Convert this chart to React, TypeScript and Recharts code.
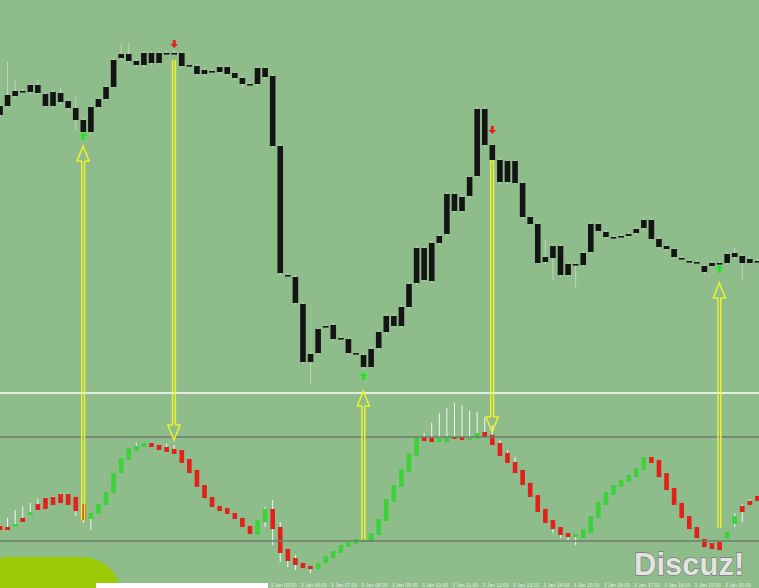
import { ComposedChart, Bar, XAxis, YAxis, ReferenceLine } from "recharts"

// price candles (top window), one value per bar
const priceOpen = [285,294,304,309,308,315,306,294,307,299, 292,280,268,293,301,313,342,346,339,335, 347,337,347,347,347,335,334,326,329,328, 333,327,322,316,316,332,324,254,125,123, 96,38,47,74,75,62,61,47,45,33, 52,68,84,74,93,117,152,119,157,166, 206,189,204,224,291,255,240,218,239,217, 183,176,138,142,154,125,136,135,148,176, 168,163,164,164,167,172,180,161,154,151, 142,139,138,134,134,137,137,147,144,141, 139]
const priceHigh = [296,338,320,311,317,321,308,310,312,301, 303,282,295,303,315,342,357,357,341,349, 349,349,350,350,349,337,336,332,331,335, 335,329,324,318,334,334,326,256,127,125, 98,48,73,76,77,64,63,49,47,53, 70,86,86,95,118,154,154,159,166,208, 208,205,225,293,293,257,242,241,241,219, 185,178,160,156,156,138,138,149,178,178, 170,165,166,168,173,182,182,163,156,153, 144,141,140,136,139,139,148,153,146,143, 141]
const priceLow = [283,292,302,307,306,305,292,292,296,290, 270,265,266,291,299,311,340,337,333,333, 335,335,345,345,332,333,324,324,327,326, 324,320,312,314,314,321,252,125,123,95, 36,15,45,72,59,60,45,45,31,31, 50,66,72,72,91,115,118,117,155,164, 187,187,202,222,253,238,216,216,215,181, 174,135,136,120,123,123,113,133,146,167, 161,161,162,162,165,170,159,151,149,141, 140,137,136,126,132,135,135,141,120,135, 137]
const priceClose = [294,305,309,309,315,307,294,308,298,292, 280,268,293,301,313,340,346,339,335,347, 337,347,347,347,334,335,326,330,329,333, 326,322,316,316,332,323,254,127,125,97, 38,46,71,74,61,62,47,47,33,51, 68,84,74,93,116,152,120,157,164,206, 189,203,223,291,255,240,218,239,217,183, 176,137,143,154,125,136,136,147,176,169, 163,163,164,166,171,180,161,153,151,143, 142,139,138,128,137,137,146,143,137,137, 139]

// oscillator candles (lower window, 0..100)
const oscOpen = [28.7,28.1,28.1,33.3,35.0,41.3,44.8,45.4,47.1,47.1, 45.4,41.3,32.7,35.6,40.8,47.7,59.2,66.7,71.9,74.2, 76.5,75.4,74.2,73.1,72.5,67.3,61.0,52.3,45.4,40.2, 39.0,36.2,33.3,28.7,23.5,31.0,38.5,28.1,15.4,10.2, 7.3,5.6,3.8,7.3,10.2,13.1,16.5,18.3,19.4,19.4, 23.5,31.5,42.5,51.2,59.8,69.0,80.0,79.4,77.1,77.1, 80.0,80.0,78.3,78.9,82.9,81.2,76.5,70.8,65.6,61.0, 53.5,46.5,38.5,32.1,28.1,24.6,22.3,21.7,24.6,33.3, 40.8,46.5,51.2,54.0,56.9,61.0,68.5,66.7,59.2,50.6, 41.9,34.4,28.1,21.2,18.8,19.4,21.2,29.8,40.2,43.1, 46.0]
const oscHigh = [29.0,33.3,37.9,40.2,42.0,44.2,45.0,46.0,47.5,47.3, 45.4,41.5,36.2,41.3,48.3,59.2,67.9,73.7,76.5,76.5, 76.5,75.4,76.0,75.4,72.5,67.3,61.0,52.3,45.4,40.2, 39.0,36.2,33.3,28.7,32.1,39.6,43.7,31.0,15.4,12.0, 7.3,5.6,7.3,11.3,14.2,17.7,19.4,21.2,21.7,24.6, 32.7,44.2,52.3,61.5,70.8,79.4,82.3,88.1,93.9,96.7, 99.6,98.5,95.0,94.4,91.5,86.9,78.3,72.5,68.5,61.0, 53.5,46.5,38.5,32.1,28.1,24.6,24.0,26.9,34.4,42.5, 48.3,52.3,55.2,58.1,62.1,68.5,68.5,66.7,59.2,50.6, 41.9,34.4,28.1,21.2,18.8,19.4,25.2,36.0,41.0,44.2, 46.0]
const oscLow = [26.0,26.0,27.8,30.8,34.8,37.9,38.5,40.8,41.9,40.8, 34.4,30.4,26.3,35.6,40.8,47.7,59.2,66.7,71.9,74.2, 74.2,72.5,71.4,70.2,65.0,59.2,51.2,44.8,39.6,37.3, 35.6,32.7,28.1,24.0,23.5,28.1,17.7,7.9,5.0,3.3, 4.4,1.5,3.8,7.3,10.2,13.1,16.5,18.3,19.4,19.4, 23.5,31.5,42.5,51.2,59.8,69.0,77.7,77.1,77.1,77.1, 78.9,78.3,78.3,78.9,80.0,75.4,69.0,65.0,59.2,52.3, 45.4,36.7,30.4,24.6,21.7,20.0,17.7,21.7,24.6,33.3, 40.8,46.5,51.2,54.0,56.9,61.0,65.0,56.9,49.4,40.8, 33.3,26.9,21.7,16.5,15.4,14.8,21.2,28.0,31.0,40.8, 43.1]
const oscClose = [26.3,26.3,29.8,31.0,36.7,37.9,38.5,40.8,41.9,40.8, 37.3,32.1,36.2,41.3,48.3,59.2,67.9,73.7,74.8,76.5, 74.2,72.5,71.4,70.2,65.0,59.2,51.2,44.8,39.6,37.3, 35.6,32.7,28.1,24.0,32.1,38.5,26.9,13.1,8.5,6.2, 4.4,3.8,7.3,11.3,14.2,17.7,19.4,21.2,21.7,24.6, 32.7,44.2,52.3,61.5,70.8,79.4,77.7,77.1,79.4,80.0, 78.9,78.3,80.0,82.3,80.0,75.4,69.0,65.0,59.2,52.3, 45.4,36.7,30.4,26.9,23.5,22.3,24.0,26.9,34.4,42.5, 48.3,52.3,55.2,58.1,62.1,68.5,65.0,56.9,49.4,40.8, 33.3,26.9,21.7,16.5,15.4,14.8,25.2,34.4,36.7,40.8, 43.1]

const oscLevels = [80, 20]

// signal marks on the price window
const buySignals = [{ bar: 11, price: 264 }, { bar: 48, price: 24 }, { bar: 95, price: 131 }]
const sellSignals = [{ bar: 23, price: 356 }, { bar: 65, price: 270 }]

// yellow annotation arrows: tail -> tip, [window, value]
const arrows: { bar: number; tail: [string, number]; tip: [string, number] }[] = [
  { bar: 11, tail: ["osc", 32.1], tip: ["price", 254] },
  { bar: 23, tail: ["price", 340], tip: ["osc", 78.3] },
  { bar: 48, tail: ["osc", 20.6], tip: ["osc", 106.5] },
  { bar: 65, tail: ["price", 240], tip: ["osc", 82.9] },
  { bar: 95, tail: ["osc", 27.5], tip: ["price", 117] },
]

// M15 bars
const start = Date.UTC(2018, 0, 2, 20, 0)
const pad = (n: number) => (n < 10 ? "0" + n : "" + n)
const times = priceOpen.map((_, i) => {
  const d = new Date(start + i * 15 * 60000)
  return `${d.getUTCDate()} Jan ${pad(d.getUTCHours())}:${pad(d.getUTCMinutes())}`
})
const tickTimes = times.filter((_, i) => i % 4 === 0 && i >= 4 && i <= 96)

const priceRows = times.map((t, i) => ({
  t,
  o: priceOpen[i], h: priceHigh[i], l: priceLow[i], c: priceClose[i],
  buy: buySignals.find((s) => s.bar === i)?.price ?? null,
  sell: sellSignals.find((s) => s.bar === i)?.price ?? null,
}))
const oscRows = times.map((t, i) => ({
  t, o: oscOpen[i], h: oscHigh[i], l: oscLow[i], c: oscClose[i],
}))

const BG = "#8fbc8b"
const YELLOW = "#f0f02e"
const PRICE_EDGE = 7.5
const OSC_EDGE = 105.6

function Candle(props: any) {
  const { x, y, width, height, payload } = props
  if (!payload || height == null) return null
  const top = Math.min(y, y + height)
  const hgt = Math.abs(height)
  const k = hgt / (payload.h - payload.l)
  const py = (v: number) => top + (payload.h - v) * k
  const cx = x + width / 2
  const bt = py(Math.max(payload.o, payload.c))
  const bb = py(Math.min(payload.o, payload.c))
  const bw = 5.6
  return (
    <g>
      <line x1={cx} x2={cx} y1={top} y2={top + hgt} stroke="#c4d3c1" strokeWidth={1} />
      <rect x={cx - bw / 2} y={bt} width={bw} height={Math.max(bb - bt, 1.6)} fill="#141414" />
      {payload.buy != null && (() => {
        const cy = py(payload.buy)
        return <path d={`M${cx},${cy - 4} L${cx + 4},${cy} L${cx + 1.5},${cy} L${cx + 1.5},${cy + 4} L${cx - 1.5},${cy + 4} L${cx - 1.5},${cy} L${cx - 4},${cy} Z`} fill="#22e822" />
      })()}
      {payload.sell != null && (() => {
        const cy = py(payload.sell)
        return <path d={`M${cx},${cy + 4} L${cx + 4},${cy} L${cx + 1.5},${cy} L${cx + 1.5},${cy - 4} L${cx - 1.5},${cy - 4} L${cx - 1.5},${cy} L${cx - 4},${cy} Z`} fill="#e3231e" />
      })()}
    </g>
  )
}

function OscBar(props: any) {
  const { x, y, width, height, payload } = props
  if (!payload || height == null) return null
  const top = Math.min(y, y + height)
  const hgt = Math.abs(height)
  const k = hgt / (payload.h - payload.l)
  const py = (v: number) => top + (payload.h - v) * k
  const cx = x + width / 2
  const bt = py(Math.max(payload.o, payload.c))
  const bb = py(Math.min(payload.o, payload.c))
  const bw = 4.6
  const up = payload.c > payload.o
  return (
    <g>
      <line x1={cx} x2={cx} y1={top} y2={top + hgt} stroke="#f4f6f2" strokeWidth={1} />
      <rect x={cx - bw / 2} y={bt} width={bw} height={Math.max(bb - bt, 2)} fill={up ? "#3dd23a" : "#e2201c"} />
    </g>
  )
}

const arrowShape = (head: boolean) => (p: any) => {
  const { x1, y1, x2, y2 } = p
  const dir = y2 > y1 ? 1 : -1
  const base = head ? y2 - dir * 15 : y2
  const g = 1.4
  return (
    <g>
      <line x1={x1 - g} y1={y1} x2={x2 - g} y2={base} stroke={YELLOW} strokeWidth={1.5} />
      <line x1={x1 + g} y1={y1} x2={x2 + g} y2={base} stroke={YELLOW} strokeWidth={1.5} />
      {head && (
        <path
          d={`M${x2 - g},${base} L${x2 - 6},${base} L${x2},${y2} L${x2 + 6},${base} L${x2 + g},${base}`}
          fill="none"
          stroke={YELLOW}
          strokeWidth={1.5}
        />
      )}
    </g>
  )
}

function arrowLines(panel: string, edge: number) {
  return arrows
    .filter((a) => a.tail[0] === panel || a.tip[0] === panel)
    .map((a) => {
      const from = a.tail[0] === panel ? a.tail[1] : edge
      const to = a.tip[0] === panel ? a.tip[1] : edge
      const head = a.tip[0] === panel
      return (
        <ReferenceLine
          key={panel + a.bar}
          segment={[{ x: times[a.bar], y: from }, { x: times[a.bar], y: to }]}
          ifOverflow="visible"
          shape={arrowShape(head)}
        />
      )
    })
}

function TimeTick(props: any) {
  const { x, y, payload } = props
  return (
    <text x={x - 2} y={y + 11.3} fontSize={5} fontFamily="Liberation Sans" fill="#e4ece2" textAnchor="start">
      {payload.value}
    </text>
  )
}

export default function App() {
  return (
    <div style={{ position: "absolute", left: 0, top: 0, width: 759, height: 588, overflow: "hidden", background: BG }}>
      <div style={{ position: "absolute", left: 0, top: 392, width: 759, height: 2, background: "#e4ede2" }} />
      <div style={{ position: "absolute", left: -4, top: 0 }}>
        <ComposedChart width={765} height={392} data={priceRows} margin={{ top: 0, right: 0, bottom: 0, left: 0 }} barCategoryGap={0}>
          <XAxis dataKey="t" hide />
          <YAxis hide domain={[8, 400]} allowDataOverflow />
          <Bar dataKey={(d: any) => [d.l, d.h]} shape={Candle} isAnimationActive={false} />
          {arrowLines("price", PRICE_EDGE)}
        </ComposedChart>
      </div>
      <div style={{ position: "absolute", left: -4, top: 385 }}>
        <ComposedChart width={765} height={203} data={oscRows} margin={{ top: 17.3, right: 0, bottom: 0, left: 0 }} barCategoryGap={0}>
          <XAxis
            dataKey="t"
            height={12.3}
            axisLine={false}
            tickLine={false}
            tickSize={0}
            tickMargin={0}
            interval={0}
            ticks={tickTimes}
            tick={<TimeTick />}
          />
          <YAxis hide domain={[0, 100]} allowDataOverflow />
          {oscLevels.map((v) => (
            <ReferenceLine key={v} y={v} stroke="#6f7d6c" strokeWidth={1.5} />
          ))}
          <Bar dataKey={(d: any) => [d.l, d.h]} shape={OscBar} isAnimationActive={false} />
          {arrowLines("osc", OSC_EDGE)}
        </ComposedChart>
      </div>
      <div style={{ position: "absolute", left: -10, top: 557, width: 132, height: 40, background: "#9bcb07", borderRadius: "18px 40px 0 0" }} />
      <div style={{ position: "absolute", left: 96, top: 583, width: 172, height: 6, background: "#ffffff" }} />
      <svg width={759} height={588} style={{ position: "absolute", left: 0, top: 0, pointerEvents: "none" }}>
        <text x={634} y={575} fontFamily="Liberation Sans" fontWeight="bold" fontSize={31} fill="#e3e3e3" stroke="#7a7a7a" strokeWidth={1.3} paintOrder="stroke">
          Discuz!
        </text>
      </svg>
    </div>
  )
}
